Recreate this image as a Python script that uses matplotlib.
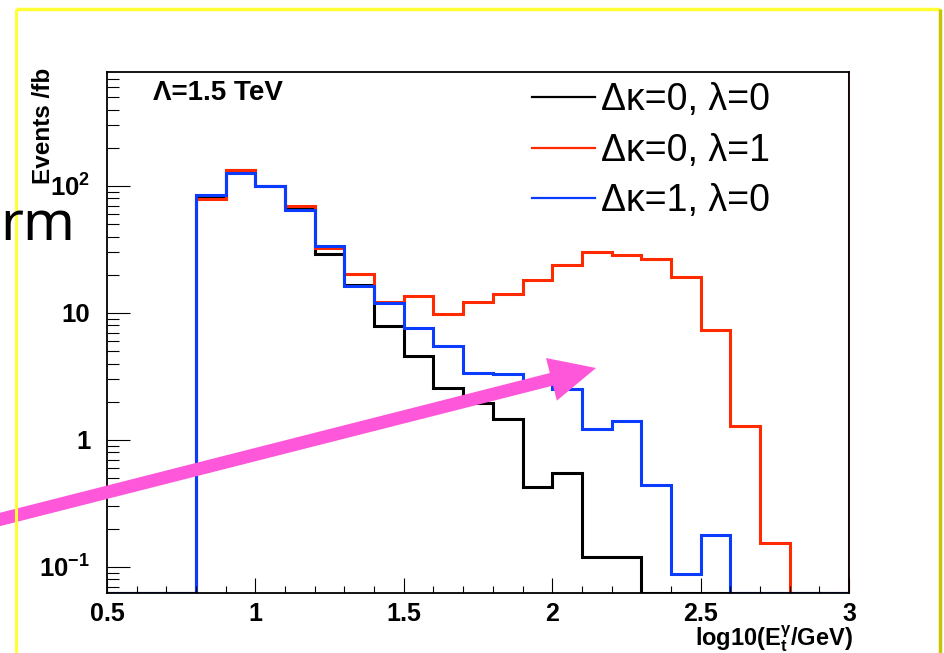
import numpy as np
import matplotlib
matplotlib.use("Agg")
import matplotlib.pyplot as plt
from matplotlib.ticker import MultipleLocator, FixedLocator, FuncFormatter, NullFormatter
from matplotlib.lines import Line2D
from matplotlib.patches import FancyArrow

plt.rcParams['font.family'] = ['Liberation Sans', 'DejaVu Sans']
plt.rcParams['mathtext.fontset'] = 'custom'
plt.rcParams['mathtext.rm'] = 'Liberation Sans'
plt.rcParams['mathtext.bf'] = 'Liberation Sans:bold'
plt.rcParams['mathtext.it'] = 'Liberation Sans:italic'

# --- data: log10(E_t/GeV) bins 0.5 .. 3.0, width 0.1 ---
bin_edges = np.linspace(0.5, 3.0, 26)

kappa0_lambda0 = [0, 0, 0, 80, 133, 100, 67, 29.2, 16.6, 7.9, 4.6, 2.55, 1.95,
                  1.46, 0.43, 0.55, 0.12, 0.12, 0, 0, 0, 0, 0, 0, 0]
kappa0_lambda1 = [0, 0, 0, 79, 134, 100, 69.6, 32.3, 20.3, 12.3, 13.7, 9.9, 12.1,
                  14.0, 18.1, 23.8, 30.4, 28.8, 26.5, 19.1, 7.35, 1.29, 0.154, 0, 0]
kappa1_lambda0 = [0, 0, 0, 85, 126, 100, 64.7, 33.7, 16.3, 12.0, 7.6, 5.5, 3.35,
                  3.28, 2.9, 2.5, 1.22, 1.41, 0.44, 0.088, 0.177, 0, 0, 0, 0]

labels = ["\u0394\u03ba=0, \u03bb=0", "\u0394\u03ba=0, \u03bb=1", "\u0394\u03ba=1, \u03bb=0"]
colors = ["black", "#ff2a00", "#0a3cff"]

YMIN, YMAX = 0.0624, 790

fig = plt.figure(figsize=(9.45, 6.53), dpi=100)
ax = fig.add_axes([107 / 945, 1 - 593 / 653, 742 / 945, 521 / 653])

for vals, col in zip([kappa0_lambda0, kappa0_lambda1, kappa1_lambda0], colors):
    v = np.array(vals, dtype=float)
    v = np.where(v > 0, v, YMIN)
    ax.stairs(v, bin_edges, baseline=None, color=col, lw=2.2)

# ROOT draws the red histogram edge along the right frame
ax.axvline(bin_edges[-1], color=colors[1], lw=2.2)

ax.set_yscale("log")
ax.set_xlim(bin_edges[0], bin_edges[-1])
ax.set_ylim(YMIN, YMAX)

ax.xaxis.set_major_locator(MultipleLocator(0.5))
ax.xaxis.set_minor_locator(MultipleLocator(0.1))
ax.xaxis.set_major_formatter(FuncFormatter(lambda x, p: "%g" % x))

ax.yaxis.set_major_locator(FixedLocator([0.1, 1, 10, 100]))
minors = [m * d for d in [0.01, 0.1, 1, 10, 100] for m in range(2, 10)]
ax.yaxis.set_minor_locator(FixedLocator(minors))
ylab = {0.1: r"$\mathbf{10^{-1}}$", 1: "1", 10: "10", 100: r"$\mathbf{10^{2}}$"}
ax.yaxis.set_major_formatter(FuncFormatter(lambda y, p: ylab.get(round(y, 3), "")))
ax.yaxis.set_minor_formatter(NullFormatter())

ax.tick_params(axis="both", which="both", direction="in", top=False, right=False,
               width=0.8, colors="black")
ax.tick_params(axis="y", which="major", length=16.5, pad=12, labelsize=18.5)
ax.tick_params(axis="y", which="minor", length=8.6)
ax.tick_params(axis="x", which="major", length=10.8, pad=6.5, labelsize=18)
ax.tick_params(axis="x", which="minor", length=5)
for lab in ax.get_xticklabels() + ax.get_yticklabels():
    lab.set_fontweight("bold")

for sp in ax.spines.values():
    sp.set_linewidth(1.3)

ax.text(0.062, 0.985, "\u039b=1.5 TeV", transform=ax.transAxes, ha="left", va="top",
        fontsize=20, fontweight="bold")

handles = [Line2D([0], [0], color=c, lw=1.6) for c in colors]
ax.legend(handles, labels, loc="upper left", frameon=False, fontsize=27,
          bbox_to_anchor=(532 / 945, 1 - 82 / 653), bbox_transform=fig.transFigure,
          borderpad=0, borderaxespad=0, handlelength=1.67, handletextpad=0.18,
          labelspacing=0.39)

fig.text(44 / 945, 1 - 68 / 653, "Events /fb", rotation=90, ha="center", va="top",
         fontsize=17.5, fontweight="bold")
fig.text(853 / 945, 1 - 654 / 653, r"$\mathbf{log10(E_{t}^{\gamma}/GeV)}$",
         ha="right", va="bottom", fontsize=17)

# --- slide overlay: yellow frame, arrow, cut-off text ---
ov = fig.add_axes([0, 0, 1, 1], zorder=10)
ov.set_xlim(0, 945)
ov.set_ylim(653, 0)
ov.axis("off")
ov.patch.set_alpha(0)

ov.plot([16, 940], [9, 9], color="#ffff33", lw=2.5, solid_capstyle="butt")
ov.plot([16, 16], [9, 653], color="#ffff33", lw=2.2, solid_capstyle="butt")
ov.plot([940, 940], [9, 653], color="#c8c400", lw=2.5, solid_capstyle="butt")

ov.add_patch(FancyArrow(-10, 522, 606, -154, width=13, head_width=44,
                        head_length=46, length_includes_head=True,
                        color="#ff57d9", lw=0))

ov.text(0, 240, "rm", fontsize=40, ha="left", va="baseline",
        family=["Noto Sans", "DejaVu Sans"])

fig.savefig("out.png", dpi=100)
